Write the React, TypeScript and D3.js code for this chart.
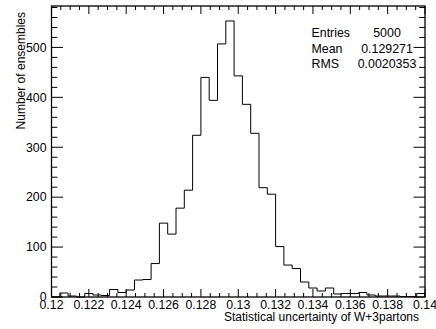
import React from "react";
import * as d3 from "d3";

const xMin = 0.12;
const xMax = 0.14;
const yMax = 583;
const counts = [
  0, 8, 2, 0, 7, 4, 3, 15, 9, 14,
  34, 35, 67, 148, 126, 178, 214, 324, 440, 394,
  507, 553, 443, 386, 328, 219, 206, 101, 64, 57,
  30, 18, 12, 18, 6, 7, 7, 9, 4, 2,
  2, 2, 1, 1, 7,
];
const xTickValues = [0.12, 0.122, 0.124, 0.126, 0.128, 0.13, 0.132, 0.134, 0.136, 0.138, 0.14];
const xTickLabels = ["0.12", "0.122", "0.124", "0.126", "0.128", "0.13", "0.132", "0.134", "0.136", "0.138", "0.14"];
const yTickValues = [0, 100, 200, 300, 400, 500];
const statsNames = ["Entries", "Mean", "RMS"];
const statsValues = ["5000", "0.129271", "0.0020353"];
const xTitle = "Statistical uncertainty of W+3partons";
const yTitle = "Number of ensembles";

const W = 436;
const H = 329;
const L = 51.5, R = 425, T = 6, B = 297;
const font = "Liberation Sans, Arial, Helvetica, sans-serif";

export default function App() {
  const x = d3.scaleLinear().domain([xMin, xMax]).range([L, R]);
  const y = d3.scaleLinear().domain([0, yMax]).range([B, T]);
  const n = counts.length;
  const bw = (xMax - xMin) / n;

  let d = `M${x(xMin)},${y(0)}`;
  counts.forEach((c, i) => {
    const x0 = x(xMin + i * bw);
    const x1 = x(xMin + (i + 1) * bw);
    d += `L${x0},${y(c)}L${x1},${y(c)}`;
  });
  d += `L${x(xMax)},${y(0)}`;

  const xMinor: number[] = [];
  for (let i = 0; i <= 40; i++) xMinor.push(xMin + i * 0.0005);
  const yMinor: number[] = [];
  for (let v = 0; v <= yMax; v += 20) yMinor.push(v);

  const xMajLen = 8, xMinLen = 4, yMajLen = 11.5, yMinLen = 5.8;

  return (
    <svg width={W} height={H} style={{ position: "absolute", left: 0, top: 0, background: "#fff" }} fontFamily={font}>
      <rect x={0} y={0} width={W} height={H} fill="#fff" />
      <path d={d} fill="none" stroke="#000" strokeWidth={1} />
      <rect x={L} y={T} width={R - L} height={B - T} fill="none" stroke="#000" strokeWidth={1.3} />
      {xMinor.map((v, i) => {
        const len = i % 4 === 0 ? xMajLen : xMinLen;
        return (
          <g key={"xt" + i}>
            <line x1={x(v)} x2={x(v)} y1={B} y2={B - len} stroke="#000" strokeWidth={1} />
            <line x1={x(v)} x2={x(v)} y1={T} y2={T + len} stroke="#000" strokeWidth={1} />
          </g>
        );
      })}
      {yMinor.map((v, i) => {
        const len = i % 5 === 0 ? yMajLen : yMinLen;
        return (
          <g key={"yt" + i}>
            <line x1={L} x2={L + len} y1={y(v)} y2={y(v)} stroke="#000" strokeWidth={1} />
            <line x1={R} x2={R - len} y1={y(v)} y2={y(v)} stroke="#000" strokeWidth={1} />
          </g>
        );
      })}
      {xTickValues.map((v, i) => (
        <text key={"xl" + i} x={x(v)} y={309} fontSize={12.3} textAnchor="middle" fill="#000">
          {xTickLabels[i]}
        </text>
      ))}
      {yTickValues.map((v) => (
        <text key={"yl" + v} x={46.5} y={y(v) + 4.3} fontSize={12.3} textAnchor="end" fill="#000">
          {v}
        </text>
      ))}
      <text x={419} y={320.5} fontSize={12} textAnchor="end" fill="#000">{xTitle}</text>
      <text transform={`translate(25,${T + 6}) rotate(-90)`} fontSize={12} textAnchor="end" fill="#000">{yTitle}</text>
      {statsNames.map((s, i) => (
        <g key={"st" + i}>
          <text x={311.5} y={37.3 + i * 15.5} fontSize={12.4} fill="#000">{s}</text>
          <text x={387} y={37.3 + i * 15.5} fontSize={12.4} textAnchor="middle" fill="#000">{statsValues[i]}</text>
        </g>
      ))}
    </svg>
  );
}
